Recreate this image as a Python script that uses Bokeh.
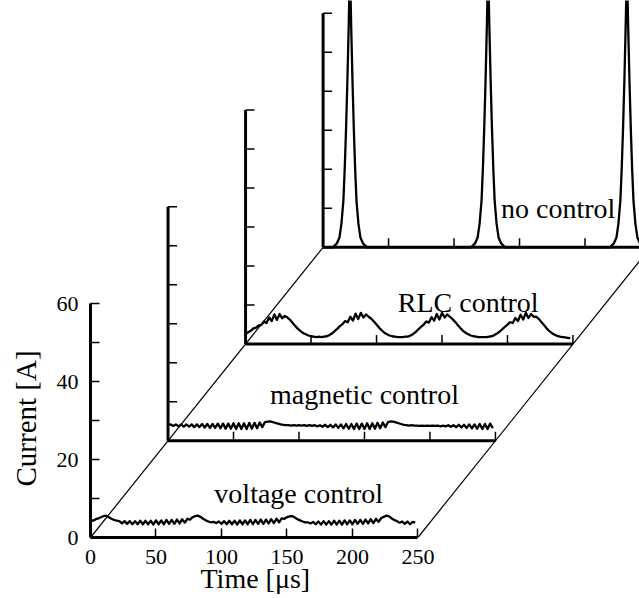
from bokeh.plotting import figure
from bokeh.models import Range1d, FixedTicker, ColumnDataSource, Title
from bokeh.core.properties import value
from bokeh.embed import file_html
from bokeh.resources import INLINE

# ---------------- data ----------------
# sample times of the rippled traces, microseconds
t_grid = list(range(0, 250, 2))

voltage_control = [
    4.6, 4.3, 4.7, 4.9, 5.2, 5.5, 5.6, 5.2, 4.8, 4.5,
    4.3, 4.2, 3.6, 4.2, 3.5, 4.2, 3.4, 4.2, 3.4, 4.3,
    3.4, 4.3, 3.4, 4.3, 3.3, 4.4, 3.4, 4.4, 3.4, 4.5,
    3.5, 4.5, 3.5, 4.6, 3.6, 4.7, 3.8, 4.8, 4.6, 5.2,
    5.5, 5.6, 5.3, 4.8, 4.4, 4.1, 3.9, 4.0, 3.7, 4.1,
    3.5, 4.2, 3.4, 4.3, 3.4, 4.3, 3.3, 4.4, 3.4, 4.4,
    3.4, 4.5, 3.4, 4.5, 3.5, 4.6, 3.5, 4.6, 3.6, 4.7,
    3.7, 4.8, 3.9, 4.9, 4.8, 5.2, 5.4, 5.5, 5.1, 4.7,
    4.4, 4.1, 3.9, 3.9, 3.6, 4.0, 3.4, 4.1, 3.3, 4.2,
    3.3, 4.2, 3.3, 4.3, 3.3, 4.3, 3.3, 4.4, 3.4, 4.4,
    3.4, 4.5, 3.5, 4.5, 3.5, 4.6, 3.6, 4.7, 3.7, 4.8,
    4.0, 5.0, 5.3, 5.6, 5.4, 4.9, 4.5, 4.2, 3.8, 4.1,
    3.5, 4.1, 3.4, 4.0, 3.8,
]

magnetic_control = [
    4.1, 4.2, 3.8, 4.2, 3.7, 4.2, 3.6, 4.2, 3.6, 4.2,
    3.5, 4.2, 3.5, 4.3, 3.4, 4.3, 3.3, 4.3, 3.3, 4.4,
    3.2, 4.4, 3.1, 4.4, 3.1, 4.5, 3.0, 4.5, 3.0, 4.5,
    3.0, 4.6, 3.1, 4.6, 3.2, 4.7, 3.5, 4.8, 4.9, 5.0,
    4.8, 4.6, 4.4, 4.2, 4.1, 4.0, 4.0, 3.9, 4.0, 3.9,
    4.0, 3.9, 4.0, 3.8, 4.0, 3.8, 4.0, 3.7, 4.0, 3.6,
    4.1, 3.5, 4.1, 3.4, 4.2, 3.3, 4.2, 3.2, 4.3, 3.1,
    4.3, 3.0, 4.4, 3.0, 4.4, 3.0, 4.5, 3.0, 4.5, 3.1,
    4.6, 3.2, 4.7, 3.5, 4.8, 5.0, 4.9, 4.7, 4.5, 4.3,
    4.1, 4.0, 3.9, 4.0, 3.9, 3.9, 3.8, 3.9, 3.8, 3.9,
    3.8, 3.9, 3.8, 3.9, 3.7, 3.9, 3.7, 4.0, 3.6, 4.0,
    3.5, 4.1, 3.4, 4.1, 3.3, 4.2, 3.2, 4.2, 3.1, 4.3,
    3.0, 4.3, 3.0, 4.4, 3.2,
]

rlc_control = [
    2.6, 3.0, 3.4, 4.0, 4.2, 4.8, 4.9, 5.8, 5.4, 6.8,
    5.9, 7.6, 6.2, 7.7, 6.6, 7.2, 6.8, 6.2, 5.4, 4.6,
    3.9, 3.3, 2.8, 2.5, 2.2, 2.0, 1.9, 1.8, 1.9, 1.8,
    1.9, 2.0, 2.3, 2.7, 3.3, 3.9, 4.6, 5.1, 5.9, 5.6,
    7.0, 6.0, 7.8, 6.4, 8.0, 6.8, 7.6, 7.0, 6.5, 5.8,
    5.0, 4.2, 3.5, 2.9, 2.5, 2.2, 2.0, 1.9, 1.8, 1.8,
    1.8, 1.9, 1.9, 2.2, 2.6, 3.1, 3.8, 4.4, 5.0, 5.8,
    5.5, 6.9, 6.0, 7.7, 6.3, 8.0, 6.8, 7.6, 7.0, 6.4,
    5.7, 4.9, 4.1, 3.4, 2.9, 2.5, 2.2, 2.0, 1.9, 1.8,
    1.8, 1.8, 1.8, 1.9, 2.0, 2.3, 2.7, 3.2, 3.8, 4.4,
    5.0, 5.6, 5.4, 6.7, 5.9, 7.5, 6.3, 8.0, 6.7, 7.7,
    7.0, 7.0, 6.4, 5.6, 4.8, 4.0, 3.3, 2.8, 2.4, 2.1,
    1.9, 1.8, 1.7, 1.6, 1.5,
]

no_control_t = [
    0,
    7.5, 10.5, 12.5, 14, 15.5, 16.5, 17.5, 18.5, 19.5, 20.5,
    21.5, 22.5, 23.5, 24.5, 25.5, 27, 28.5, 30.5, 33.5,
    113, 116, 118, 119.5, 121, 122, 123, 124, 125, 126,
    127, 128, 129, 130, 131, 132.5, 134, 136, 139,
    219, 222, 224, 225.5, 227, 228, 229, 230, 231, 232,
    233, 234, 235, 236, 237, 238.5, 240, 242, 245,
    250,
]
no_control = [
    0,
    0, 1, 2.5, 6, 12, 20, 30, 42, 56, 72,
    56, 42, 30, 20, 12, 6, 2.5, 1, 0,
    0, 1, 2.5, 6, 12, 20, 30, 42, 56, 72,
    56, 42, 30, 20, 12, 6, 2.5, 1, 0,
    0, 1, 2.5, 6, 12, 20, 30, 42, 56, 72,
    56, 42, 30, 20, 12, 6, 2.5, 1, 0,
    0,
]

panel_names = ["voltage control", "magnetic control", "RLC control", "no control"]
x_ticks = [0, 50, 100, 150, 200, 250]
y_major = [0, 20, 40, 60]
y_minor = [10, 30, 50]
x_title = "Time [μs]"
y_title = "Current [A]"

# ---------------- layout constants ----------------
PX_PER_US = 1.312
PX_PER_A = 3.9
FRAME_W, FRAME_H = 550, 537
DX, DY = 59.2, 24.8            # shift of each panel behind the previous one (data units)
T_MAX, I_MAX = 250, 60
TICK_PX = 9
label_pos_t = [159, 150, 170, 179.5]
label_pos_i = [11.3, 11.9, 10.7, 10.0]

FONT = "Liberation Serif"

p = figure(width=639, height=598,
           x_range=Range1d(0, FRAME_W / PX_PER_US),
           y_range=Range1d(0, FRAME_H / PX_PER_A),
           output_backend="svg", toolbar_location=None,
           min_border_left=89, min_border_right=0,
           min_border_top=0, min_border_bottom=61)
p.outline_line_color = None
p.grid.visible = False
p.background_fill_color = "white"
p.border_fill_color = "white"

# front axes (real Bokeh axes)
xa = p.xaxis[0]
xa.bounds = (0, T_MAX)
xa.ticker = FixedTicker(ticks=x_ticks, minor_ticks=[])
ya = p.yaxis[0]
ya.bounds = (0, I_MAX)
ya.ticker = FixedTicker(ticks=y_major, minor_ticks=y_minor)
for ax in (xa, ya):
    ax.axis_line_width = 3
    ax.axis_line_color = "black"
    ax.major_tick_in = TICK_PX
    ax.major_tick_out = 0
    ax.minor_tick_in = TICK_PX
    ax.minor_tick_out = 0
    ax.major_tick_line_width = 1.5
    ax.minor_tick_line_width = 1.5
    ax.major_tick_line_color = "black"
    ax.minor_tick_line_color = "black"
    ax.major_label_text_font = FONT
    ax.major_label_text_font_size = "22px"
    ax.major_label_text_color = "black"
xa.major_label_standoff = 12
ya.major_label_standoff = 12

# axis titles, placed along the front panel's axes (not the whole frame)
p.add_layout(Title(text=x_title, align="left", offset=110, standoff=-8,
                   vertical_align="top", text_font=FONT, text_font_size="28px",
                   text_font_style="normal", text_color="black"), "below")
p.add_layout(Title(text=y_title, align="left", offset=51, standoff=19,
                   vertical_align="top", text_font=FONT, text_font_size="29px",
                   text_font_style="normal", text_color="black"), "left")

# diagonal guide lines joining the panels' corners
p.segment(x0=[0, T_MAX], y0=[0, 0], x1=[3 * DX, T_MAX + 3 * DX], y1=[3 * DY, 3 * DY],
          line_color="black", line_width=1.2)

# axes of the three panels behind
tick_dy = TICK_PX / PX_PER_A
tick_dx = TICK_PX / PX_PER_US
for k in (1, 2, 3):
    ox, oy = k * DX, k * DY
    p.segment(x0=[ox, ox], y0=[oy, oy], x1=[ox + T_MAX, ox], y1=[oy, oy + I_MAX],
              line_color="black", line_width=3)
    xt = [ox + t for t in x_ticks[1:]]
    p.segment(x0=xt, y0=[oy] * len(xt), x1=xt, y1=[oy + tick_dy] * len(xt),
              line_color="black", line_width=1.5)
    yt = [oy + v for v in sorted(y_major[1:] + y_minor)]
    p.segment(x0=[ox] * len(yt), y0=yt, x1=[ox + tick_dx] * len(yt), y1=yt,
              line_color="black", line_width=1.5)

# traces
traces = [(t_grid, voltage_control), (t_grid, magnetic_control),
          (t_grid, rlc_control), (no_control_t, no_control)]
for k, (tt, ii) in enumerate(traces):
    src = ColumnDataSource(dict(t=[t + k * DX for t in tt], i=[v + k * DY for v in ii]))
    p.line("t", "i", source=src, line_color="black", line_width=2.3, line_join="round")

# panel captions
p.text(x=[t + k * DX for k, t in enumerate(label_pos_t)],
       y=[v + k * DY for k, v in enumerate(label_pos_i)],
       text=panel_names, text_font=value(FONT), text_font_size=value("28px"),
       text_align="center", text_baseline="alphabetic", text_color="black")

open("out.html", "w").write(file_html(p, INLINE))
